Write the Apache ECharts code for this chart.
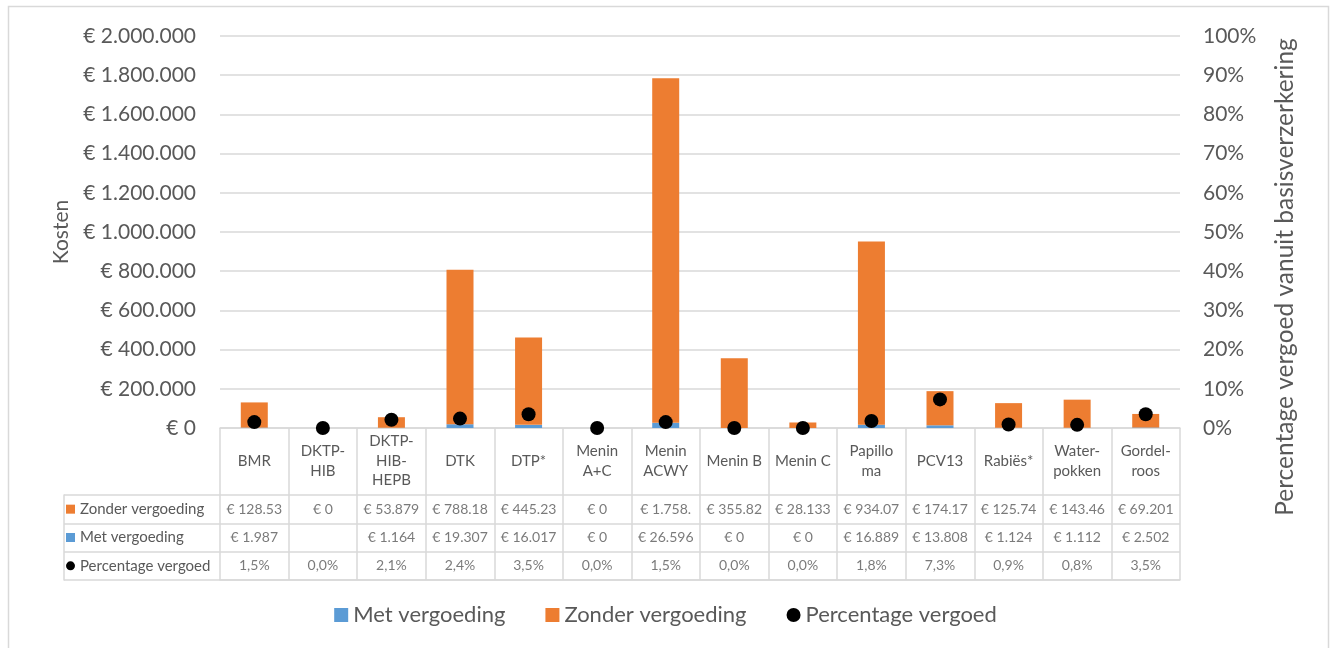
<!DOCTYPE html>
<html><head><meta charset="utf-8">
<script src="https://cdn.jsdelivr.net/npm/echarts/dist/echarts.min.js"></script>
<style>html,body{margin:0;padding:0;background:#fff}#c{width:1331px;height:648px}</style>
</head><body><div id="c"></div>
<script>
const categories = ['BMR','DKTP-\nHIB','DKTP-\nHIB-\nHEPB','DTK','DTP*','Menin\nA+C','Menin\nACWY','Menin B','Menin C','Papillo\nma','PCV13','Rabiës*','Water-\npokken','Gordel-\nroos'];
const zonderVergoeding = [128530, 0, 53879, 788180, 445230, 0, 1758000, 355820, 28133, 934070, 174170, 125740, 143460, 69201];
const metVergoeding = [1987, null, 1164, 19307, 16017, 0, 26596, 0, 0, 16889, 13808, 1124, 1112, 2502];
const percentageVergoed = [0.015, 0.0, 0.021, 0.024, 0.035, 0.0, 0.015, 0.0, 0.0, 0.018, 0.073, 0.009, 0.008, 0.035];
const tableRows = ['Zonder vergoeding', 'Met vergoeding', 'Percentage vergoed'];
const seriesNames = ['Met vergoeding', 'Zonder vergoeding', 'Percentage vergoed'];
const leftAxisTitle = 'Kosten';
const rightAxisTitle = 'Percentage vergoed vanuit basisverzerkering';

const TXT = '#595959', GRID = '#d9d9d9', BLUE = '#5b9bd5', ORANGE = '#ed7d31';
function euro(v) { return '€ ' + String(Math.round(v)).replace(/\B(?=(\d{3})+(?!\d))/g, '.'); }
function clip(s) { return s.length > 8 ? s.slice(0, 8) : s; }
function pct(v) { return (v * 100).toFixed(1).replace('.', ',') + '%'; }

const tableText = [
  zonderVergoeding.map(v => v == null ? '' : clip(euro(v))),
  metVergoeding.map(v => v == null ? '' : clip(euro(v))),
  percentageVergoed.map(v => v == null ? '' : pct(v))
];

const chart = echarts.init(document.getElementById('c'));
const tableSeries = tableRows.map((r, ri) => ({
  name: 'tbl' + ri, type: 'scatter', xAxisIndex: 1, yAxisIndex: 2, silent: true,
  symbolSize: 0, itemStyle: { color: 'transparent' },
  data: categories.map((c, i) => [i, ri]),
  label: { show: true, position: 'inside', color: TXT, fontSize: 14, fontFamily: 'Lato',
    formatter: p => tableText[ri][p.dataIndex] }
}));

chart.setOption({
  animation: false,
  textStyle: { fontFamily: 'Lato' },
  graphic: [
    { type: 'rect', silent: true, shape: { x: 8.5, y: 6.5, width: 1320, height: 660 }, style: { fill: 'none', stroke: GRID, lineWidth: 1.5 } },
    { type: 'text', silent: true, x: 1285, y: 277, rotation: Math.PI / 2,
      style: { text: rightAxisTitle, font: '24.5px Lato', fill: TXT, textAlign: 'center', textVerticalAlign: 'middle' } }
  ],
  legend: {
    top: 599, left: 'center', itemWidth: 14, itemHeight: 14, itemGap: 40,
    textStyle: { color: TXT, fontSize: 22 },
    data: [{ name: seriesNames[0], icon: 'rect' }, { name: seriesNames[1], icon: 'rect' }, { name: seriesNames[2], icon: 'circle' }]
  },
  grid: [
    { left: 220, right: 151, top: 36, height: 392 },
    { left: 220, right: 151, top: 495, height: 85 }
  ],
  xAxis: [
    { type: 'category', gridIndex: 0, data: categories,
      axisLine: { lineStyle: { color: GRID, width: 1.5 } },
      axisTick: { show: true, length: 67, interval: 0, lineStyle: { color: GRID, width: 1.5 } },
      axisLabel: { interval: 0, color: TXT, fontSize: 15, lineHeight: 19.5, verticalAlign: 'middle', margin: 33 } },
    { type: 'category', gridIndex: 1, data: categories,
      axisLine: { show: true, lineStyle: { color: GRID, width: 1.5 } },
      axisTick: { show: false }, axisLabel: { show: false },
      splitLine: { show: true, interval: 0, lineStyle: { color: GRID, width: 1.5 } } }
  ],
  yAxis: [
    { type: 'value', gridIndex: 0, min: 0, max: 2000000, interval: 200000,
      name: leftAxisTitle, nameLocation: 'middle', nameGap: 148, nameTextStyle: { color: TXT, fontSize: 21 },
      axisLine: { show: false }, axisTick: { show: false },
      splitLine: { lineStyle: { color: GRID, width: 1.5 } },
      axisLabel: { color: TXT, fontSize: 21, margin: 24, formatter: v => euro(v) } },
    { type: 'value', gridIndex: 0, position: 'right', min: 0, max: 1, interval: 0.1,
      axisLine: { show: false }, axisTick: { show: false }, splitLine: { show: false },
      axisLabel: { color: TXT, fontSize: 21, margin: 23, formatter: v => Math.round(v * 100) + '%' } },
    { type: 'category', gridIndex: 1, data: tableRows, inverse: true,
      axisLine: { show: false },
      axisTick: { show: true, length: 156, interval: 0, lineStyle: { color: GRID, width: 1.5 } },
      splitLine: { show: true, interval: 0, lineStyle: { color: GRID, width: 1.5 } },
      axisLabel: { interval: 0, align: 'left', margin: 154, color: TXT, fontSize: 15,
        formatter: (v, i) => '{m' + i + '|}{t|' + v + '}',
        rich: {
          m0: { width: 9, height: 9, backgroundColor: ORANGE },
          m1: { width: 9, height: 9, backgroundColor: BLUE },
          m2: { width: 9, height: 9, backgroundColor: '#000', borderRadius: 4.5 },
          t: { color: TXT, fontSize: 15, padding: [0, 0, 0, 5] }
        } } },
    { type: 'category', gridIndex: 1, data: tableRows, inverse: true, position: 'left', offset: 156,
      axisLine: { show: true, lineStyle: { color: GRID, width: 1.5 } },
      axisTick: { show: false }, axisLabel: { show: false }, splitLine: { show: false } }
  ],
  series: [
    { name: seriesNames[0], type: 'bar', stack: 'kosten', barWidth: 27, data: metVergoeding, itemStyle: { color: BLUE } },
    { name: seriesNames[1], type: 'bar', stack: 'kosten', barWidth: 27, data: zonderVergoeding, itemStyle: { color: ORANGE } },
    { name: seriesNames[2], type: 'scatter', yAxisIndex: 1, symbolSize: 14, data: percentageVergoed, itemStyle: { color: '#000', opacity: 1 } },
    ...tableSeries
  ]
});
</script></body></html>
